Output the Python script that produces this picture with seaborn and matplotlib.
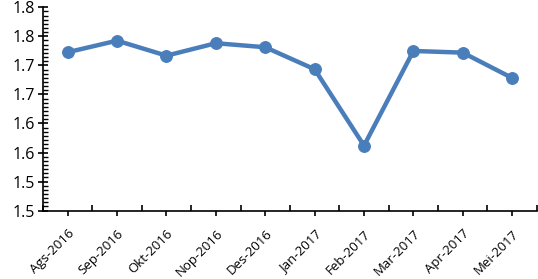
import matplotlib
matplotlib.use("Agg")
import matplotlib.pyplot as plt
import seaborn as sns
import pandas as pd
from matplotlib.ticker import FixedLocator, AutoMinorLocator

months = ["Ags-2016", "Sep-2016", "Okt-2016", "Nop-2016", "Des-2016",
          "Jan-2017", "Feb-2017", "Mar-2017", "Apr-2017", "Mei-2017"]
values = [1.7726, 1.7925, 1.7667, 1.7881, 1.7812,
          1.7433, 1.6119, 1.7748, 1.7719, 1.7283]
y_ticks = [1.50, 1.55, 1.60, 1.65, 1.70, 1.75, 1.80, 1.85]
y_tick_labels = ["1.5", "1.5", "1.6", "1.6", "1.7", "1.7", "1.8", "1.8"]

sns.set_theme(style="white")
plt.rcParams['font.family'] = ['Open Sans', 'DejaVu Sans']

df = pd.DataFrame({"month": months, "value": values})

fig = plt.figure(figsize=(5.38, 2.79), dpi=100)
ax = fig.add_axes([0.0799, 0.245, 0.918, 0.729])

sns.lineplot(data=df, x="month", y="value", sort=False, ax=ax,
             color="#4a7ebb", linewidth=3.2, marker="o", markersize=8.5,
             markeredgecolor="#4a7ebb", markerfacecolor="#4a7ebb")

ax.set_xlim(-0.5, len(months) - 0.5)
ax.set_ylim(1.50, 1.85)
ax.set_yticks(y_ticks)
ax.set_yticklabels(y_tick_labels)
ax.yaxis.set_minor_locator(AutoMinorLocator(7))

ax.set_xticks(range(len(months)))
ax.set_xticklabels(months, rotation=45, ha="right", rotation_mode="anchor")
ax.xaxis.set_minor_locator(FixedLocator([i - 0.5 for i in range(len(months) + 1)]))

ax.set_xlabel("")
ax.set_ylabel("")

for s in ["top", "right"]:
    ax.spines[s].set_visible(False)
for s in ["left", "bottom"]:
    ax.spines[s].set_color("black")
    ax.spines[s].set_linewidth(1.2)

ax.tick_params(axis="y", which="major", direction="inout", length=7, width=1.2,
               color="black", labelsize=11.5, labelcolor="black", pad=2, left=True)
ax.tick_params(axis="y", which="minor", direction="in", length=3.5, width=1.0,
               color="black", left=True)
ax.tick_params(axis="x", which="major", direction="out", length=3.5, width=1.2,
               color="black", labelsize=9.5, labelcolor="black", pad=8.5, bottom=True)
ax.tick_params(axis="x", which="minor", direction="in", length=4, width=1.2,
               color="black", bottom=True)
ax.grid(False)

fig.savefig("out.png", dpi=100, facecolor="white")
